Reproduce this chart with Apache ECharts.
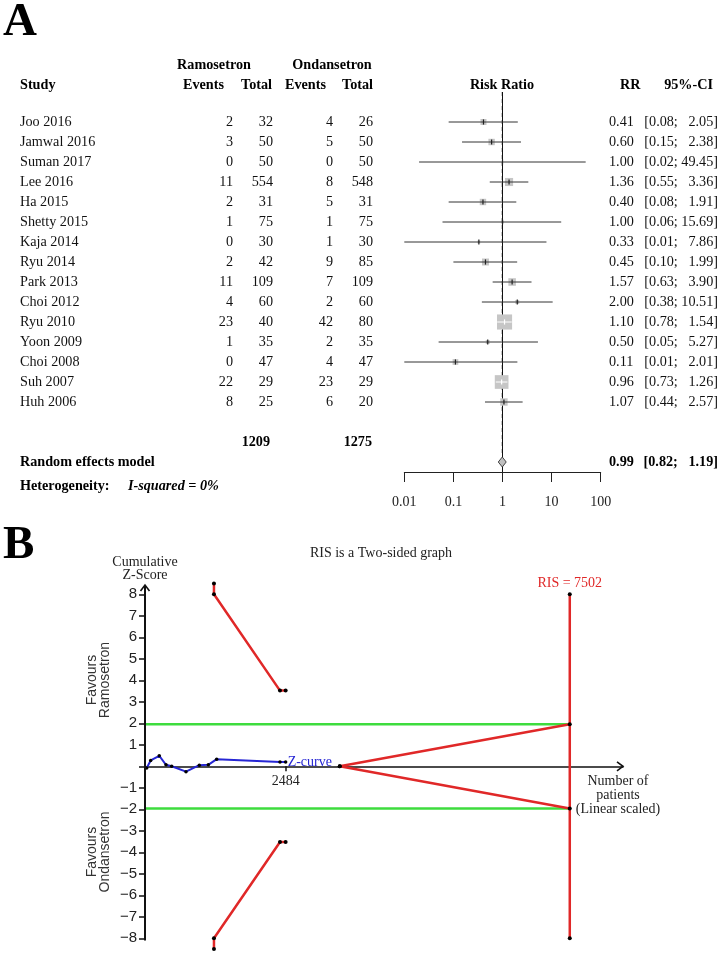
<!DOCTYPE html>
<html><head><meta charset="utf-8">
<script src="https://cdn.jsdelivr.net/npm/echarts@6/dist/echarts.min.js"></script>
<style>html,body{margin:0;padding:0;background:#fff}#c{width:720px;height:953px}</style>
</head><body><div id="c"></div>
<script>
// ---------- Part A data ----------
const studies = ['Joo 2016','Jamwal 2016','Suman 2017','Lee 2016','Ha 2015','Shetty 2015','Kaja 2014','Ryu 2014','Park 2013','Choi 2012','Ryu 2010','Yoon 2009','Choi 2008','Suh 2007','Huh 2006'];
const ramEvents = [2,3,0,11,2,1,0,2,11,4,23,1,0,22,8];
const ramTotal  = [32,50,50,554,31,75,30,42,109,60,40,35,47,29,25];
const ondEvents = [4,5,0,8,5,1,1,9,7,2,42,2,4,23,6];
const ondTotal  = [26,50,50,548,31,75,30,85,109,60,80,35,47,29,20];
const rr     = [0.41,0.60,1.00,1.36,0.40,1.00,0.33,0.45,1.57,2.00,1.10,0.50,0.11,0.96,1.07];
const ciLow  = [0.08,0.15,0.02,0.55,0.08,0.06,0.01,0.10,0.63,0.38,0.78,0.05,0.01,0.73,0.44];
const ciHigh = [2.05,2.38,49.45,3.36,1.91,15.69,7.86,1.99,3.90,10.51,1.54,5.27,2.01,1.26,2.57];
const weights = [4.3,4.9,0,7.8,4.9,1.0,1.0,5.8,6.8,1.9,27.2,1.9,3.9,22.3,6.5];
const totalRam = 1209, totalOnd = 1275;
const pooledRR = 0.99, pooledLow = 0.82, pooledHigh = 1.19;
const nullEffect = 1;
const rrTicks = [0.01,0.1,1,10,100];
const heterogeneityText = 'I-squared = 0%';

// ---------- Part B data ----------
const zCurveN = [30,100,252,371,471,724,959,1118,1266,2384,2484];
const zCurveZ = [-0.08,0.27,0.49,0.07,0.0,-0.25,0.05,0.07,0.33,0.2,0.2];
const trialN = 2484, risN = 7502;
const alphaZ = 1.96;
const boundN = [1218,1218,2384,2484];
const boundZ = [8.5,8,3.52,3.52];
const futilityStartN = 3440;
const zMin = -8, zMax = 8;
const xMaxN = 8442;

const SERIF = '"Liberation Serif","Times New Roman",serif';
const NARROW = '"Liberation Sans Narrow","Arial Narrow","Liberation Sans",sans-serif';
const SANS = '"Liberation Sans Narrow","Liberation Sans",sans-serif';
const TXT = '#111';
const RED = '#e02828', GREEN = '#3edc3e', BLUE = '#2626d4';
const FS = 14.2;

function tEl(x, y, text, align, o) {
  o = o || {};
  return {type:'text', x:x, y:y, silent:true, rotation:o.rotation||0,
    style:{text:String(text), fill:o.color||TXT, fontFamily:o.family||SERIF, fontSize:o.size||FS,
      fontWeight:o.bold?'bold':'normal', fontStyle:o.italic?'italic':'normal',
      align:align||'left', verticalAlign:'middle', lineHeight:o.lineHeight}};
}
function padHi(v){ const s=v.toFixed(2); return s.length<5 ? '  '+s : s; }
function ciStr(lo,hi){ return '[' + lo.toFixed(2) + '; ' + padHi(hi) + ']'; }

// extra table cells (headers / footers): [rowPos, x, align, text, bold, italic]
const cells = [
  [-1.85, 214, 'center', 'Ramosetron', true],
  [-1.85, 332, 'center', 'Ondansetron', true],
  [-0.85, 20, 'left', 'Study', true],
  [-0.85, 224, 'right', 'Events', true],
  [-0.85, 272, 'right', 'Total', true],
  [-0.85, 326, 'right', 'Events', true],
  [-0.85, 373, 'right', 'Total', true],
  [-0.85, 502, 'center', 'Risk Ratio', true],
  [-0.85, 620, 'left', 'RR', true],
  [-0.85, 713, 'right', '95%-CI', true],
  [17, 270, 'right', String(totalRam), true],
  [17, 372, 'right', String(totalOnd), true],
  [18, 20, 'left', 'Random effects model', true],
  [18, 609, 'left', pooledRR.toFixed(2), true],
  [18, 718, 'right', ciStr(pooledLow, pooledHigh), true],
  [19.2, 20, 'left', 'Heterogeneity:', true],
  [19.2, 128, 'left', heterogeneityText, true, true]
];

const chart = echarts.init(document.getElementById('c'), null, {renderer:'canvas', width:720, height:953});

function fmtTick(v){ const e = Math.round(Math.log10(v)); return e<0 ? v.toFixed(-e) : String(Math.round(v)); }

const dotStyle = {color:'#000'};
function redLine(data, extra){
  return Object.assign({type:'line', xAxisIndex:1, yAxisIndex:1, data:data, symbol:'circle', symbolSize:4,
    showSymbol:true, itemStyle:dotStyle, lineStyle:{color:RED, width:2.5}, clip:false, silent:true, z:3}, extra||{});
}

const option = {
  animation:false,
  grid:[{left:404.3, top:92, width:196.4, height:380},{left:145, top:594.3, width:478, height:344}],
  xAxis:[
    {gridIndex:0, type:'log', logBase:10, min:0.01, max:100, position:'bottom',
      axisLine:{show:true, onZero:false, lineStyle:{color:'#222', width:1}},
      axisTick:{show:true, length:10, customValues:rrTicks, lineStyle:{color:'#222'}},
      axisLabel:{customValues:rrTicks, formatter:fmtTick, fontFamily:SERIF, fontSize:14, color:'#222', margin:23},
      splitLine:{show:false}},
    {gridIndex:1, type:'value', min:0, max:xMaxN,
      axisLine:{show:true, onZero:true, lineStyle:{color:'#111', width:1.5}},
      axisTick:{show:true, length:5, customValues:[trialN], lineStyle:{color:'#111', width:1.5}},
      axisLabel:{show:false},
      splitLine:{show:false}}
  ],
  yAxis:[
    {gridIndex:0, type:'value', min:-0.5, max:18.5, inverse:true, show:false},
    {gridIndex:1, type:'value', min:zMin, max:zMax, interval:1,
      axisLine:{show:false},
      axisTick:{show:true, length:6, lineStyle:{color:'#111', width:1.5}},
      axisLabel:{margin:8, fontFamily:NARROW, fontSize:15, color:'#222',
        formatter:function(v){ return v===0 ? '' : (v<0 ? '\u2212'+(-v) : String(v)); }},
      splitLine:{show:false}}
  ],
  graphic:[
    tEl(3, 23, 'A', 'left', {size:47, bold:true, color:'#000'}),
    tEl(3, 546, 'B', 'left', {size:47, bold:true, color:'#000'}),
    tEl(381, 553, 'RIS is a Two-sided graph', 'center', {size:14, color:'#222'}),
    tEl(145, 568.5, 'Cumulative\nZ-Score', 'center', {size:14, color:'#222', lineHeight:13}),
    tEl(99, 680, 'Favours\nRamosetron', 'center', {size:14, color:'#333', family:SANS, lineHeight:13, rotation:Math.PI/2}),
    tEl(99, 852, 'Favours\nOndansetron', 'center', {size:14, color:'#333', family:SANS, lineHeight:13, rotation:Math.PI/2}),
    tEl(618, 795, 'Number of\npatients\n(Linear scaled)', 'center', {size:14, color:'#222', lineHeight:14})
  ],
  series:[
    // null-effect line
    {type:'line', xAxisIndex:0, yAxisIndex:0, data:[[nullEffect,-0.5],[nullEffect,18.5]], symbol:'none',
      lineStyle:{color:'#111', width:1}, silent:true, z:1},
    // pooled estimate dashed
    {type:'line', xAxisIndex:0, yAxisIndex:0, data:[[pooledRR,-0.5],[pooledRR,17.6]], symbol:'none',
      lineStyle:{color:'#111', width:1, type:[4,3]}, silent:true, z:1},
    // study CIs & boxes
    {type:'custom', xAxisIndex:0, yAxisIndex:0, silent:true, z:3,
      data: studies.map(function(s,i){ return [ciLow[i], ciHigh[i], rr[i], i+1, weights[i]]; }),
      renderItem:function(p, api){
        const row = api.value(3);
        const lo = api.coord([api.value(0), row]);
        const hi = api.coord([api.value(1), row]);
        const c = api.coord([api.value(2), row]);
        const s = 2.9*Math.sqrt(api.value(4));
        const h = s/2;
        const inside = s>0 && (c[0]-lo[0] <= h) && (hi[0]-c[0] <= h);
        const ch = [];
        ch.push({type:'line', shape:{x1:lo[0],y1:lo[1],x2:hi[0],y2:hi[1]}, style:{stroke:'#333', lineWidth:1}});
        if (s>0) ch.push({type:'rect', shape:{x:c[0]-h, y:c[1]-h, width:s, height:s}, style:{fill:'#c6c6c6'}});
        const lc = inside ? '#fff' : '#222';
        if (inside) ch.push({type:'line', shape:{x1:lo[0],y1:lo[1],x2:hi[0],y2:hi[1]}, style:{stroke:'#fff', lineWidth:1}});
        else ch.push({type:'line', shape:{x1:Math.max(lo[0],c[0]-h),y1:c[1],x2:Math.min(hi[0],c[0]+h),y2:c[1]}, style:{stroke:'#333', lineWidth:1}});
        ch.push({type:'line', shape:{x1:c[0],y1:c[1]-2.6,x2:c[0],y2:c[1]+2.6}, style:{stroke:lc, lineWidth:1.2}});
        return {type:'group', children:ch};
      }},
    // pooled diamond
    {type:'custom', xAxisIndex:0, yAxisIndex:0, silent:true, z:4,
      data:[[pooledLow, pooledHigh, pooledRR, 18]],
      renderItem:function(p, api){
        const row = api.value(3);
        const l = api.coord([api.value(0), row]), r = api.coord([api.value(1), row]);
        const t = api.coord([api.value(2), row-0.25]), b = api.coord([api.value(2), row+0.25]);
        return {type:'polygon', shape:{points:[l,t,r,b]}, style:{fill:'#c0c0c0', stroke:'#444', lineWidth:1}};
      }},
    // table rows
    {type:'custom', xAxisIndex:0, yAxisIndex:0, silent:true, z:5,
      data: studies.map(function(s,i){ return [1, i+1]; }),
      renderItem:function(p, api){
        const i = p.dataIndex;
        const y = api.coord([1, api.value(1)])[1];
        return {type:'group', children:[
          tEl(20, y, studies[i], 'left'),
          tEl(233, y, ramEvents[i], 'right'),
          tEl(273, y, ramTotal[i], 'right'),
          tEl(333, y, ondEvents[i], 'right'),
          tEl(373, y, ondTotal[i], 'right'),
          tEl(609, y, rr[i].toFixed(2), 'left'),
          tEl(718, y, ciStr(ciLow[i], ciHigh[i]), 'right')
        ]};
      }},
    // header / footer cells
    {type:'custom', xAxisIndex:0, yAxisIndex:0, silent:true, z:5,
      data: cells.map(function(c){ return [1, c[0]]; }),
      renderItem:function(p, api){
        const c = cells[p.dataIndex];
        const y = api.coord([1, api.value(1)])[1];
        return tEl(c[1], y, c[3], c[2], {bold:c[4], italic:c[5], color:'#000'});
      }},

    // ----- Part B -----
    {type:'line', xAxisIndex:1, yAxisIndex:1, data:[[0,alphaZ],[risN,alphaZ]], symbol:'none',
      lineStyle:{color:GREEN, width:2.5}, silent:true, z:2},
    {type:'line', xAxisIndex:1, yAxisIndex:1, data:[[0,-alphaZ],[risN,-alphaZ]], symbol:'none',
      lineStyle:{color:GREEN, width:2.5}, silent:true, z:2},
    redLine([[futilityStartN,0],[risN,alphaZ]]),
    redLine([[futilityStartN,0],[risN,-alphaZ]]),
    redLine([[risN,zMin],{value:[risN,zMax], label:{show:true, position:'top', distance:2,
      formatter:'RIS = '+risN, color:RED, fontFamily:SERIF, fontSize:14}}]),
    redLine(boundN.map(function(n,i){ return [n, boundZ[i]]; })),
    redLine(boundN.map(function(n,i){ return [n, -boundZ[i]]; })),
    {type:'line', xAxisIndex:1, yAxisIndex:1, data:zCurveN.map(function(n,i){ return [n, zCurveZ[i]]; }),
      symbol:'circle', symbolSize:3.5, showSymbol:true, itemStyle:dotStyle,
      lineStyle:{color:BLUE, width:2}, silent:true, z:4,
      endLabel:{show:true, formatter:'Z-curve', color:BLUE, fontFamily:SERIF, fontSize:14, distance:2}},
    // axis lines with open arrow heads, and the trial-size label
    {type:'custom', xAxisIndex:1, yAxisIndex:1, silent:true, z:5, data:[[0,0]],
      renderItem:function(p, api){
        const top = api.coord([0, 8.43]), bot = api.coord([0, -8.1]);
        const xe = api.coord([xMaxN, 0]);
        const tn = api.coord([trialN, 0]);
        return {type:'group', children:[
          {type:'line', shape:{x1:top[0], y1:top[1], x2:bot[0], y2:bot[1]}, style:{stroke:'#111', lineWidth:2}},
          {type:'polyline', shape:{points:[[top[0]-4.5, top[1]+6],[top[0], top[1]],[top[0]+4.5, top[1]+6]]}, style:{stroke:'#111', lineWidth:1.6, fill:null}},
          {type:'polyline', shape:{points:[[xe[0]-6, xe[1]-4.5],[xe[0], xe[1]],[xe[0]-6, xe[1]+4.5]]}, style:{stroke:'#111', lineWidth:1.6, fill:null}},
          tEl(tn[0], tn[1]+15, String(trialN), 'center', {size:14, color:'#222'})
        ]};
      }}
  ]
};
chart.setOption(option);
</script>
</body></html>
